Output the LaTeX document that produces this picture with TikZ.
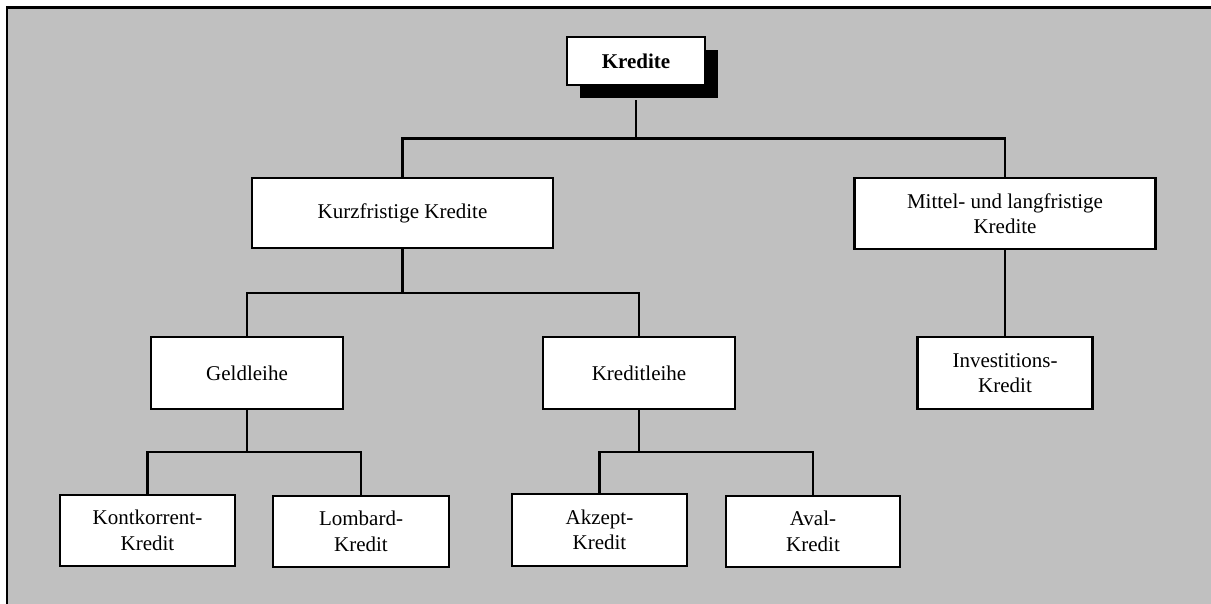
\documentclass[tikz,border=0pt]{standalone}
\usepackage{fontspec}
\setmainfont{Liberation Serif}
\usetikzlibrary{shadows}
\definecolor{panelgray}{RGB}{192,192,192}
\begin{document}
\begin{tikzpicture}[x=1pt,y=-1pt,
  box/.style={draw=black, line width=2.6pt, fill=white, rectangle, inner sep=0pt,
    align=center, font=\fontsize{21}{25.5}\selectfont},
  link/.style={draw=black, line width=2.2pt, line join=miter}]
  % page and framed panel
  \useasboundingbox (0,0) rectangle (1211,604);
  \fill[white] (0,0) rectangle (1211,604);
  \fill[panelgray] (7,8) rectangle (1211,604);
  \draw[line width=2.6pt] (7,604) -- (7,7.5) -- (1211,7.5);

  % nodes
  \node[box, minimum width=138pt, minimum height=48pt,
    drop shadow={shadow xshift=13pt, shadow yshift=-13pt, fill=black, opacity=1}]
    (kredite) at (636,61) {\textbf{Kredite}};
  \node[box, minimum width=301pt, minimum height=70pt] (kurz) at (402.5,213) {Kurzfristige Kredite};
  \node[box, minimum width=301pt, minimum height=71pt] (mittel) at (1005,213.5) {Mittel- und langfristige\\Kredite};
  \node[box, minimum width=192pt, minimum height=72pt] (geld) at (247,373) {Geldleihe};
  \node[box, minimum width=192pt, minimum height=72pt] (kleihe) at (639,373) {Kreditleihe};
  \node[box, minimum width=175pt, minimum height=72pt] (invest) at (1005,373) {Investitions-\\Kredit};
  \node[box, minimum width=175pt, minimum height=71pt] (kont) at (147.5,530.5) {Kontkorrent-\\Kredit};
  \node[box, minimum width=176pt, minimum height=71pt] (lomb) at (361,531.5) {Lombard-\\Kredit};
  \node[box, minimum width=175pt, minimum height=72pt] (akz) at (599.5,530) {Akzept-\\Kredit};
  \node[box, minimum width=174pt, minimum height=71pt] (aval) at (813,531.5) {Aval-\\Kredit};

  % bus levels
  \coordinate (bus1) at (0,138.5);
  \coordinate (bus2) at (0,293);
  \coordinate (bus3) at (0,452);

  % connectors
  \draw[link] (kredite.south) ++(0,14) -- (kredite.south |- bus1) -| (kurz.north);
  \draw[link] (kredite.south |- bus1) -| (mittel.north);
  \draw[link] (kurz.south) -- (kurz.south |- bus2) -| (geld.north);
  \draw[link] (kurz.south |- bus2) -| (kleihe.north);
  \draw[link] (mittel.south) -- (invest.north);
  \draw[link] (geld.south) -- (geld.south |- bus3) -| (kont.north);
  \draw[link] (geld.south |- bus3) -| (lomb.north);
  \draw[link] (kleihe.south) -- (kleihe.south |- bus3) -| (akz.north);
  \draw[link] (kleihe.south |- bus3) -| (aval.north);
\end{tikzpicture}
\end{document}
